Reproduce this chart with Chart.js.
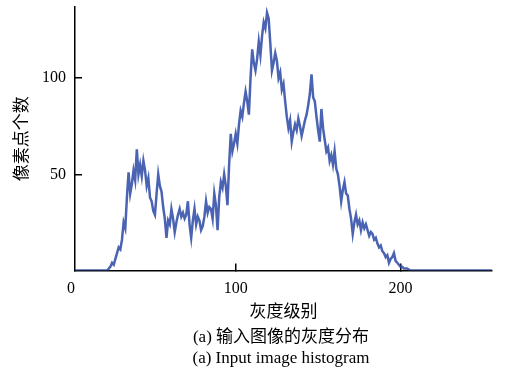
<!DOCTYPE html>
<html>
<head>
<meta charset="utf-8">
<script src="https://cdn.jsdelivr.net/npm/chart.js@4.4.1/dist/chart.umd.min.js"></script>
<style>
  html, body { margin: 0; padding: 0; background: #fff; }
  #wrap { position: relative; width: 507px; height: 370px; }
  canvas { position: absolute; left: 0; top: 0; }
  .cap { position: absolute; left: 181px; width: 200px; text-align: center; white-space: nowrap;
         font-family: "Liberation Serif", "Noto Sans CJK SC", serif; font-size: 17px; color: #000; line-height: 20px; }
</style>
</head>
<body>
<div id="wrap">
  <canvas id="c" width="507" height="370"></canvas>
  <div class="cap" style="top:327px">(a) 输入图像的灰度分布</div>
  <div class="cap" style="top:348px">(a) Input image histogram</div>
</div>
<script>
const xTitle = "灰度级别";
const yTitle = "像素点个数";
const xTicks = [0, 100, 200];
const yTicks = [50, 100];
// pixel counts for gray levels 0..255
const counts = [
  0,0,0,0,0,0,0,0,0,0, 0,0,0,0,0,0,0,0,0,0, 0,0,0,1,2,4,3,6,9,12,
  11,16,25,22,38,51,40,45,52,47, 63,50,55,49,57,52,44,48,38,36,
  31,29,40,50,44,41,33,27,17,26, 24,32,27,20,25,29,32,28,30,27,
  29,36,24,17,26,32,24,28,26,21, 23,28,36,30,33,32,27,40,34,21,
  38,46,43,50,44,34,55,71,62,66, 71,66,76,83,80,87,93,88,81,100,
  115,108,104,110,119,112,122,129,126,134, 131,118,104,108,113,109,100,103,94,97,
  88,80,74,78,67,72,76,73,79,75, 70,74,78,81,86,92,102,90,88,80,
  73,67,84,74,68,62,64,57,60,55, 62,53,50,44,36,42,46,40,39,32,
  27,19,25,29,24,26,21,25,22,24, 21,18,20,19,16,17,14,12,13,10,
  9,7,8,4,6,7,9,5,4,3, 2,2,1,1,1,0.5,0,0,0,0,
  0,0,0,0,0,0,0,0,0,0, 0,0,0,0,0,0,0,0,0,0,
  0,0,0,0,0,0,0,0,0,0, 0,0,0,0,0,0,0,0,0,0,
  0,0,0,0,0,0,0,0,0,0, 0,0,0,0,0,0
];
const grayLevels = counts.map((_, i) => i);

const serif = '"Liberation Serif", "Noto Sans CJK SC", serif';

new Chart(document.getElementById('c'), {
  type: 'line',
  data: {
    datasets: [{
      data: grayLevels.map((g, i) => ({ x: g, y: counts[i] })),
      borderColor: 'rgba(42,72,165,0.85)',
      borderWidth: 2.5,
      pointRadius: 0,
      tension: 0,
      fill: false
    }]
  },
  options: {
    responsive: false,
    animation: false,
    layout: { padding: { left: 0, top: 7, right: 15, bottom: 47 } },
    plugins: { legend: { display: false }, tooltip: { enabled: false } },
    scales: {
      x: {
        type: 'linear',
        min: 2.5,
        max: 255.5,
        afterBuildTicks: s => { s.ticks = xTicks.map(v => ({ value: v })); },
        afterFit: s => { s.height = 52.5; s.paddingLeft = 0; s.paddingRight = 0; },
        ticks: { font: { family: serif, size: 16 }, color: '#000', padding: 16, maxRotation: 0 },
        grid: {
          drawOnChartArea: false, drawTicks: true, tickLength: -7, lineWidth: 1.5,
          color: c => (c.tick && c.tick.value === 0) ? 'rgba(0,0,0,0)' : '#000'
        },
        border: { display: true, color: '#000', width: 1.5 },
        title: { display: true, text: xTitle, color: '#000', font: { family: serif, size: 17 }, padding: { top: 2, bottom: 0 } }
      },
      y: {
        type: 'linear',
        min: 0,
        max: 137,
        afterBuildTicks: s => { s.ticks = yTicks.map(v => ({ value: v })); },
        afterFit: s => { s.width = 75; s.paddingTop = 0; s.paddingBottom = 0; },
        ticks: { font: { family: serif, size: 16 }, color: '#000', padding: 16 },
        grid: { drawOnChartArea: false, drawTicks: true, tickLength: -7, lineWidth: 1.5, color: '#000' },
        border: { display: true, color: '#000', width: 1.5 },
        title: { display: true, text: yTitle, color: '#000', font: { family: serif, size: 17 }, padding: { top: 12, bottom: 0 } }
      }
    }
  }
});
</script>
</body>
</html>
